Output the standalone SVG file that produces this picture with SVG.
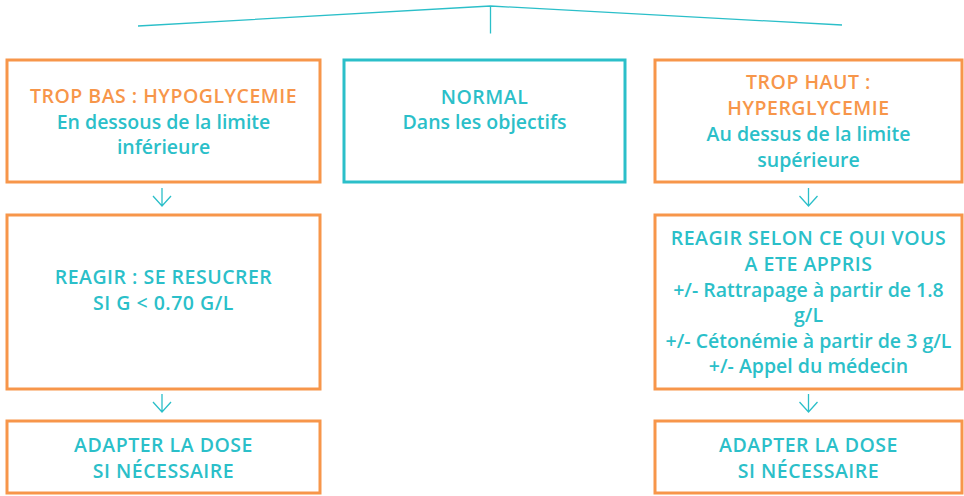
<svg xmlns="http://www.w3.org/2000/svg" width="964" height="496" viewBox="0 0 964 496">
<style>
.or{fill:#fff;stroke:#F7964A;stroke-width:3}
.te{fill:#fff;stroke:#2BBFC9;stroke-width:3}
text{font-family:"Open Sans",Lato,"Liberation Sans",sans-serif;font-size:19.5px;font-weight:600;text-anchor:middle}
.cap{letter-spacing:0.5px}
.to{fill:#F7964A}
.tt{fill:#2BBFC9}
.ln{fill:none;stroke:#2BBFC9;stroke-width:1.3}
</style>
<defs>
<path id="arr" class="ln" d="M0,0 V18 M-9,8 L0,18 L9,8"/>
</defs>
<g id="connectors">
<polyline class="ln" points="138,26 490.5,6 842,25"/>
<line class="ln" x1="490.5" y1="6" x2="490.5" y2="33.5"/>
<use href="#arr" x="162" y="188"/>
<use href="#arr" x="162" y="394"/>
<use href="#arr" x="808.5" y="188"/>
<use href="#arr" x="808.5" y="394"/>
</g>
<g id="hypo">
<rect class="or" x="7" y="60" width="313" height="122"/>
<text class="to cap" x="163.5" y="103.3">TROP BAS : HYPOGLYCEMIE</text>
<text class="tt" x="163.5" y="128.7">En dessous de la limite</text>
<text class="tt" x="163.5" y="154">inférieure</text>
</g>
<g id="normal">
<rect class="te" x="344" y="60" width="281" height="122"/>
<text class="tt cap" x="484.5" y="104">NORMAL</text>
<text class="tt" x="484.5" y="128.7">Dans les objectifs</text>
</g>
<g id="hyper">
<rect class="or" x="655" y="60" width="307" height="122"/>
<text class="to cap" x="808.5" y="89.3">TROP HAUT :</text>
<text class="to cap" x="808.5" y="115">HYPERGLYCEMIE</text>
<text class="tt" x="808.5" y="140.7">Au dessus de la limite</text>
<text class="tt" x="808.5" y="166.5">supérieure</text>
</g>
<g id="reagir-hypo">
<rect class="or" x="7" y="215" width="313" height="174"/>
<text class="tt cap" x="163.5" y="284">REAGIR : SE RESUCRER</text>
<text class="tt cap" x="163.5" y="310">SI G &lt; 0.70 G/L</text>
</g>
<g id="reagir-hyper">
<rect class="or" x="655" y="215" width="307" height="174"/>
<text class="tt cap" x="808.5" y="245">REAGIR SELON CE QUI VOUS</text>
<text class="tt cap" x="808.5" y="270.7">A ETE APPRIS</text>
<text class="tt" x="808.5" y="296.5">+/- Rattrapage à partir de 1.8</text>
<text class="tt" x="808.5" y="322">g/L</text>
<text class="tt" x="808.5" y="347.7">+/- Cétonémie à partir de 3 g/L</text>
<text class="tt" x="808.5" y="373.3">+/- Appel du médecin</text>
</g>
<g id="adapter-hypo">
<rect class="or" x="7" y="421" width="313" height="72"/>
<text class="tt cap" x="163.5" y="451.7">ADAPTER LA DOSE</text>
<text class="tt cap" x="163.5" y="477.7">SI NÉCESSAIRE</text>
</g>
<g id="adapter-hyper">
<rect class="or" x="655" y="421" width="307" height="72"/>
<text class="tt cap" x="808.5" y="451.7">ADAPTER LA DOSE</text>
<text class="tt cap" x="808.5" y="477.7">SI NÉCESSAIRE</text>
</g>
</svg>
